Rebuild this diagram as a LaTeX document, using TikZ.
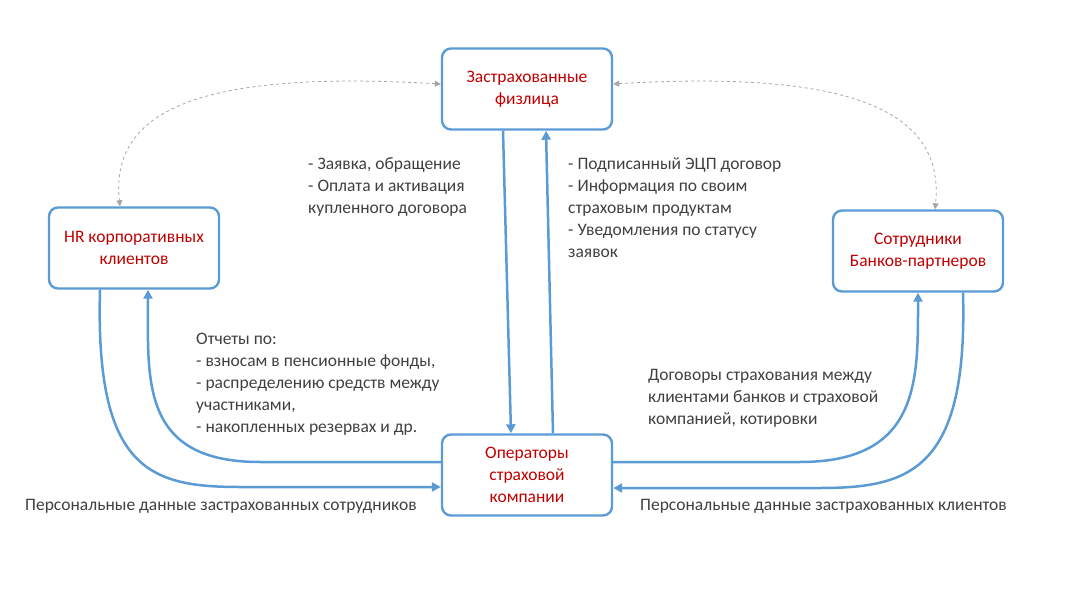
\documentclass[tikz,border=0pt]{standalone}
\usepackage{fontspec}
\setmainfont{Carlito}
\usetikzlibrary{arrows.meta}
\definecolor{bl}{HTML}{5B9BD5}
\definecolor{rd}{HTML}{C00000}
\definecolor{tx}{HTML}{404040}
\begin{document}
\begin{tikzpicture}[x=1pt,y=-1pt,
  box/.style={draw=bl,line width=2.4pt,rounded corners=9pt,minimum width=170pt,minimum height=81pt,align=center,text=rd,font=\fontsize{17.5}{22}\selectfont},
  lab/.style={anchor=north west,align=left,text=tx,font=\fontsize{17.5}{22}\selectfont,inner sep=0},
  con/.style={bl,line width=2.5pt,-{Triangle[length=9pt,width=9pt]}},
  gd/.style={gray!70,line width=0.8pt,dashed,{Triangle[length=6pt,width=6pt]}-{Triangle[length=6pt,width=6pt]}}]
\useasboundingbox (0,0) rectangle (1071,602);
\node[box] (top) at (527,89) {Застрахованные\\физлица};
\node[box] (hr) at (134,248) {HR корпоративных\\клиентов};
\node[box] (bk) at (918,251) {Сотрудники\\Банков-партнеров};
\node[box] (op) at (527,475) {Операторы\\страховой\\компании};
\draw[con] ([xshift=-24pt]top.south) -- ([xshift=-16pt]op.north);
\draw[con] ([xshift=26pt]op.north) -- ([xshift=19pt]top.south);
\draw[gd] ([yshift=5pt]top.west) .. controls (200,70) and (110,110) .. ([xshift=-14pt]hr.north);
\draw[gd] ([yshift=5pt]top.east) .. controls (850,70) and (945,110) .. ([xshift=17pt]bk.north);
\draw[con] ([xshift=-34pt]hr.south) .. controls (95,470) and (150,487) .. (240,487) -- ([yshift=-12pt]op.west);
\draw[con] ([yshift=13pt]op.west) -- (260,462) .. controls (140,462) and (148,380) .. ([xshift=14pt]hr.south);
\draw[con] ([yshift=13pt]op.east) -- (800,462) .. controls (920,462) and (918,380) .. (bk.south);
\draw[con] ([xshift=45pt]bk.south) .. controls (968,470) and (910,488) .. (820,488) -- ([yshift=-13pt]op.east);
\node[lab] (l1) at (308,157) {- Заявка, обращение\\- Оплата и активация\\купленного договора};
\node[lab] (l2) at (568,157) {- Подписанный ЭЦП договор\\- Информация по своим\\страховым продуктам\\- Уведомления по статусу\\заявок};
\node[lab] (l3) at (196,333) {Отчеты по:\\- взносам в пенсионные фонды,\\- распределению средств между\\участниками,\\- накопленных резервах  и др.};
\node[lab] (l4) at (648,369) {Договоры страхования между\\клиентами банков и страховой\\компанией, котировки};
\node[lab] (l5) at (25,499) {Персональные данные застрахованных сотрудников};
\node[lab] (l6) at (640,499) {Персональные данные застрахованных клиентов};
\end{tikzpicture}
\end{document}
